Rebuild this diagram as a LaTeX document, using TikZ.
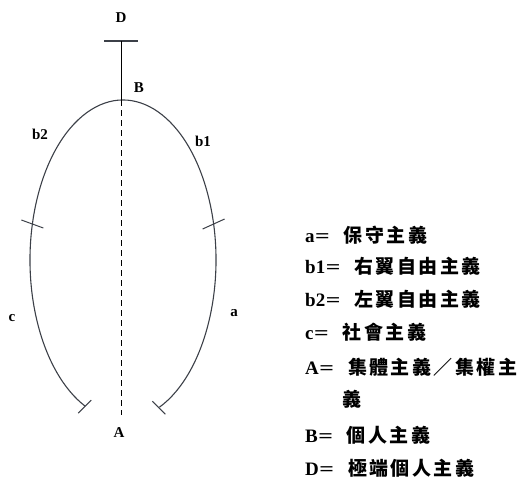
\documentclass[tikz,border=0pt]{standalone}
\usepackage{fontspec}
\usepackage{graphicx}
\setmainfont{Liberation Serif}
\newfontfamily\cjk[LetterSpace=13]{Noto Sans CJK TC}
\usetikzlibrary{calc}
\definecolor{arcgray}{HTML}{3C4048}
\newcommand{\eqsign}{\hspace{0.5pt}\scalebox{1.35}[1]{=}\hspace{14pt}}
\newcommand{\cj}[1]{{\cjk\fontsize{19}{21}\selectfont #1}}
\tikzset{
  lbl/.style={font=\bfseries\fontsize{15}{17}\selectfont, inner sep=0pt},
  leg/.style={anchor=west, inner sep=0pt, font=\bfseries\fontsize{19}{21}\selectfont},
  curve/.style={draw=arcgray, line width=1.1pt},
  tick/.style={draw=arcgray, line width=1pt},
}
\begin{document}
\begin{tikzpicture}[x=1pt,y=1pt]
\useasboundingbox (0,0) rectangle (522,-485);
% key points
\coordinate (Dbar) at (121,-41);
\coordinate (Btop) at (123,-100);
\coordinate (Abot) at (121,-415);
\coordinate (C) at (123,-260);
% arc
\draw[curve] ($(C)+({93*cos(-67)},{160*sin(-67)})$) coordinate (Rend)
  arc[start angle=-67, end angle=246, x radius=93, y radius=160] coordinate (Lend);
\coordinate (Ltick) at ($(C)+({93*cos(167)},{160*sin(167)})$);
\coordinate (Rtick) at ($(C)+({93*cos(13)},{160*sin(13)})$);
% ticks
\draw[tick] ($(Ltick)+(-11,4)$) -- ($(Ltick)+(11,-4)$);
\draw[tick] ($(Rtick)+(-11,-5)$) -- ($(Rtick)+(11,5)$);
\draw[tick] ($(Lend)+(-7,-7)$) -- ($(Lend)+(6,6)$);
\draw[tick] ($(Rend)+(-7,6)$) -- ($(Rend)+(6,-7)$);
% top bar and axis
\draw[draw=arcgray, line width=1.3pt] ($(Dbar)+(-17,0)$) -- ($(Dbar)+(17,0)$);
\draw[line width=1pt] (Dbar) -- (Btop -| Dbar) coordinate (Bax);
\draw[line width=1pt, dash pattern=on 6pt off 4pt] (Bax) -- (Abot);
% labels
\node[lbl] (D) at (121,-18) {D};
\node[lbl] (B) at (139,-88) {B};
\node[lbl] (b2) at (40,-134) {b2};
\node[lbl] (b1) at (203,-141) {b1};
\node[lbl] (c) at (12,-318) {c};
\node[lbl] (a) at (234,-313) {a};
\node[lbl] (A) at (119,-433) {A};
% legend
\node[leg] (la) at (305,-235) {a\eqsign\cj{保守主義}};
\node[leg] (lb1) at (305,-266) {b1\eqsign\cj{右翼自由主義}};
\node[leg] (lb2) at (305,-299) {b2\eqsign\cj{左翼自由主義}};
\node[leg] (lc) at (305,-332) {c\eqsign\cj{社會主義}};
\node[leg] (lA) at (305,-367) {A\eqsign\cj{集體主義／集權主}};
\node[leg] (lA2) at (342,-399) {\cj{義}};
\node[leg] (lB) at (305,-435) {B\eqsign\cj{個人主義}};
\node[leg] (lD) at (305,-468) {D\eqsign\cj{極端個人主義}};
\end{tikzpicture}
\end{document}
